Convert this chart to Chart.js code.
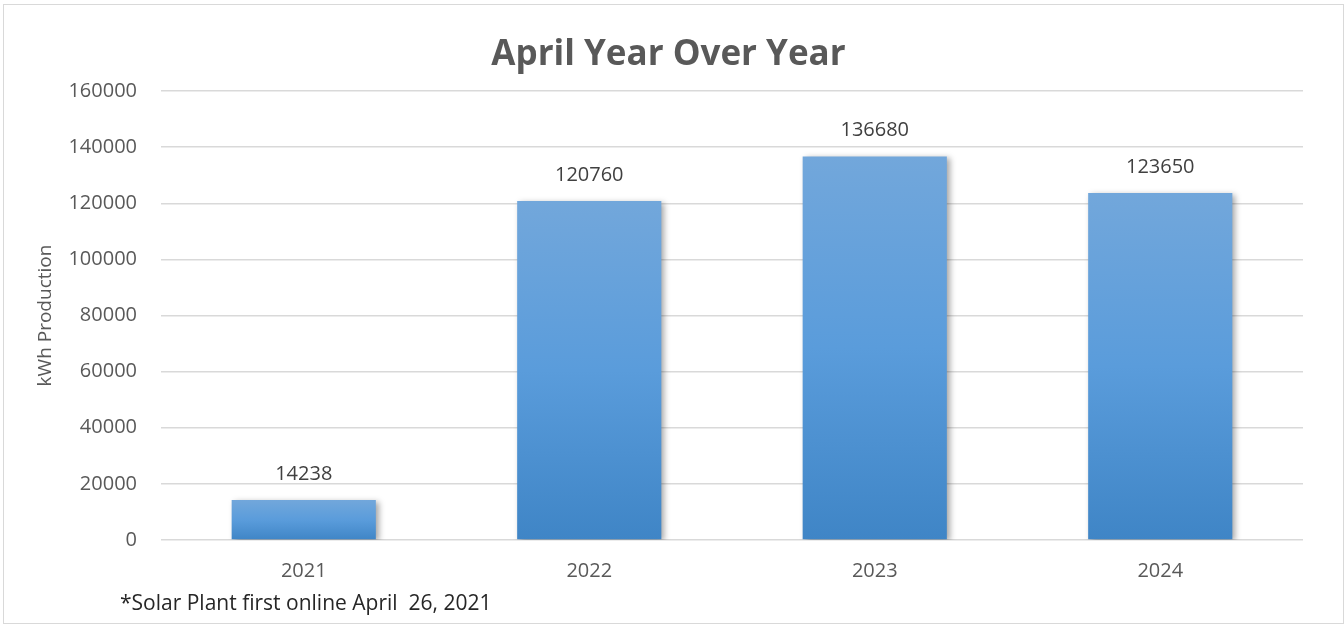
<!DOCTYPE html>
<html>
<head>
<meta charset="utf-8">
<script src="https://cdn.jsdelivr.net/npm/chart.js@4.4.1/dist/chart.umd.min.js"></script>
<style>
  html, body { margin: 0; padding: 0; background: #fff; }
  #wrap { position: relative; width: 1344px; height: 626px; }
  #frame { position: absolute; left: 3px; top: 4px; right: 0; bottom: 2px; border: 1.5px solid #d9d9d9; pointer-events: none; }
</style>
</head>
<body>
<div id="wrap">
  <canvas id="chart" width="1344" height="626"></canvas>
  <div id="frame"></div>
</div>
<script>
const years = ['2021', '2022', '2023', '2024'];
const production = [14238, 120760, 136680, 123650];
const yTicks = [0, 20000, 40000, 60000, 80000, 100000, 120000, 140000, 160000];
const footnote = '*Solar Plant first online April  26, 2021';

const FONT = "'Open Sans', 'Noto Sans', sans-serif";

// Per-bar vertical gradient, like the Excel preset
const barFill = (context) => {
    const chart = context.chart;
    const yScale = chart.scales.y;
    if (!yScale || context.raw === undefined) return '#5b9bd5';
    const top = yScale.getPixelForValue(context.raw);
    const bottom = yScale.getPixelForValue(0);
    if (!isFinite(top) || !isFinite(bottom) || top === bottom) return '#5b9bd5';
    const g = chart.ctx.createLinearGradient(0, top, 0, bottom);
    g.addColorStop(0, '#72a7db');
    g.addColorStop(0.5, '#5a9cdb');
    g.addColorStop(1, '#3f85c6');
    return g;
};

// Soft drop shadow under the bars
const barShadow = {
    id: 'barShadow',
    beforeDatasetsDraw(chart) {
        const ctx = chart.ctx;
        ctx.save();
        ctx.shadowColor = 'rgba(0, 0, 0, 0.35)';
        ctx.shadowBlur = 6;
        ctx.shadowOffsetX = 3;
        ctx.shadowOffsetY = 2;
    },
    afterDatasetsDraw(chart) {
        chart.ctx.restore();
    }
};

// Value labels above each bar
const valueLabels = {
    id: 'valueLabels',
    afterDatasetsDraw(chart) {
        const ctx = chart.ctx;
        const meta = chart.getDatasetMeta(0);
        ctx.save();
        ctx.font = `20px ${FONT}`;
        ctx.fillStyle = '#404040';
        ctx.textAlign = 'center';
        ctx.textBaseline = 'middle';
        meta.data.forEach((bar, i) => {
            ctx.fillText(String(production[i]), bar.x, bar.y - 26);
        });
        ctx.restore();
    }
};

// Footnote text under the axis
const footnoteText = {
    id: 'footnoteText',
    afterDraw(chart) {
        const ctx = chart.ctx;
        ctx.save();
        ctx.font = `21px ${FONT}`;
        ctx.fillStyle = '#262626';
        ctx.textAlign = 'left';
        ctx.textBaseline = 'middle';
        ctx.fillText(footnote, 120, 604);
        ctx.restore();
    }
};

new Chart(document.getElementById('chart').getContext('2d'), {
    type: 'bar',
    data: {
        labels: years,
        datasets: [{
            label: 'kWh Production',
            data: production,
            backgroundColor: barFill,
            borderWidth: 0,
            barPercentage: 0.505,
            categoryPercentage: 1.0
        }]
    },
    options: {
        responsive: false,
        animation: false,
        layout: { padding: { left: 34, right: 41, top: 0, bottom: 24 } },
        scales: {
            x: {
                grid: { display: false, drawTicks: false },
                border: { display: false },
                ticks: { color: '#595959', font: { family: FONT, size: 20 }, padding: 19 }
            },
            y: {
                min: 0,
                max: 160000,
                afterBuildTicks: (scale) => { scale.ticks = yTicks.map(v => ({ value: v })); },
                afterFit: (scale) => { scale.width = 127; },
                grid: { color: '#d9d9d9', lineWidth: 1.5, drawTicks: false },
                border: { display: false },
                ticks: {
                    color: '#595959',
                    font: { family: FONT, size: 20 },
                    padding: 24,
                    callback: (value) => String(value)
                },
                title: {
                    display: true,
                    text: 'kWh Production',
                    color: '#595959',
                    font: { family: FONT, size: 19 },
                    padding: 0
                }
            }
        },
        plugins: {
            legend: { display: false },
            tooltip: { enabled: false },
            title: {
                display: true,
                text: 'April Year Over Year',
                color: '#595959',
                font: { family: FONT, size: 35, weight: 'bold' },
                padding: { top: 34, bottom: 15 }
            }
        }
    },
    plugins: [barShadow, valueLabels, footnoteText]
});
</script>
</body>
</html>
